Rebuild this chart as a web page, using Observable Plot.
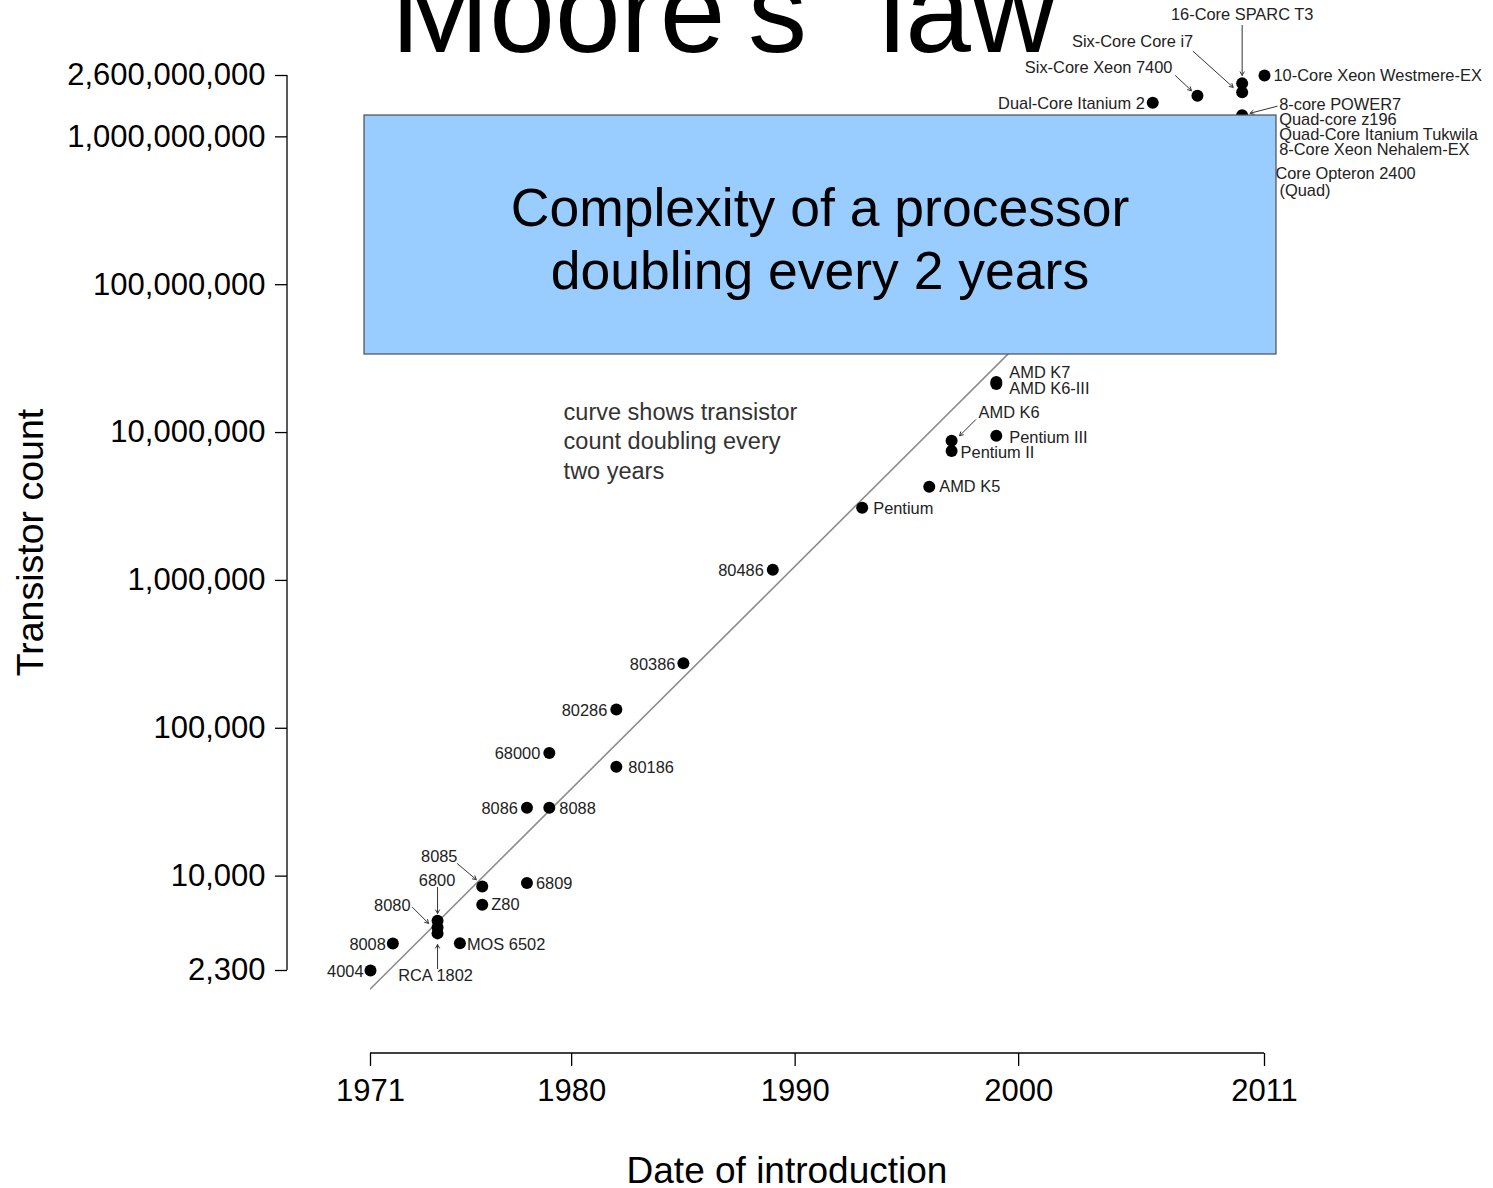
<!DOCTYPE html>
<html>
<head>
<meta charset="utf-8">
<script src="https://cdn.jsdelivr.net/npm/d3@7"></script>
<script src="https://cdn.jsdelivr.net/npm/@observablehq/plot@0.6"></script>
<style>
html, body { margin: 0; padding: 0; background: #fff; overflow: hidden; }
#chart { width: 1493px; height: 1188px; }
</style>
</head>
<body>
<div id="chart"></div>
<script>
// ---------------- data ----------------
const chips = ["4004","8008","8080","6800","RCA 1802","MOS 6502","8085","Z80","6809","8086","8088","68000","80186","80286","80386","80486","Pentium","AMD K5","AMD K6","Pentium II","Pentium III","AMD K6-III","AMD K7","Dual-Core Itanium 2","Six-Core Xeon 7400","16-Core SPARC T3","Six-Core Core i7","8-core POWER7","10-Core Xeon Westmere-EX"];
const years = [1971,1972,1974,1974,1974,1975,1976,1976,1978,1978,1979,1979,1982,1982,1985,1989,1993,1996,1997,1997,1999,1999,1999,2006,2008,2010,2010,2010,2011];
const counts = [2300,3500,4500,4100,5000,3510,8500,6400,9000,29000,29000,68000,55000,134000,275000,1180000,3100000,4300000,8800000,7500000,9500000,21300000,22000000,1.7e9,1.9e9,2.3e9,2.0e9,1.4e9,2.6e9];
// labels whose dots are hidden under the box
const hiddenChips = ["Quad-core z196","Quad-Core Itanium Tukwila","8-Core Xeon Nehalem-EX","Six-Core Opteron 2400","Core i7 (Quad)"];
// trend line: doubling every two years
const trendYears = [1971, 2010];
const trendCounts = [1730, 1.28e9];
const xTicks = [1971, 1980, 1990, 2000, 2011];
const yTicks = [2300, 1e4, 1e5, 1e6, 1e7, 1e8, 1e9, 2.6e9];
const titleText = "Moore's \u201Claw\u201D";
const xLabel = "Date of introduction";
const yLabel = "Transistor count";
const boxLines = ["Complexity of a processor", "doubling every 2 years"];
const noteText = "curve shows transistor\ncount doubling every\ntwo years";
const noteYear = 1979.64, noteCount = 8.9e6;

// ---------------- label layout (pixel offsets from the referenced dot) ----------------
const layout = {
  "4004": {a: "end", dx: -7, dy: 1},
  "8008": {a: "end", dx: -7, dy: 1},
  "8080": {a: "end", dx: -27, dy: -22, arrow: [-25, -20, -9, -4]},
  "6800": {a: "middle", dx: -0.5, dy: -53, arrow: [0, -46, 0, -20]},
  "RCA 1802": {a: "middle", dx: -2, dy: 55, arrow: [0, 48, 0, 24]},
  "MOS 6502": {a: "start", dx: 7, dy: 1},
  "8085": {a: "middle", dx: -43, dy: -30, arrow: [-25, -23, -6, -7]},
  "Z80": {a: "start", dx: 9, dy: 0},
  "6809": {a: "start", dx: 9, dy: 1},
  "8086": {a: "end", dx: -9, dy: 1},
  "8088": {a: "start", dx: 10, dy: 1},
  "68000": {a: "end", dx: -9, dy: 1},
  "80186": {a: "start", dx: 12, dy: 1},
  "80286": {a: "end", dx: -9, dy: 1},
  "80386": {a: "end", dx: -8, dy: 1},
  "80486": {a: "end", dx: -9, dy: 1},
  "Pentium": {a: "start", dx: 11, dy: 1},
  "AMD K5": {a: "start", dx: 10, dy: 0},
  "AMD K6": {a: "start", dx: 27, dy: -28, arrow: [24, -21, 8, -5]},
  "Pentium II": {a: "start", dx: 9, dy: 2},
  "Pentium III": {a: "start", dx: 13, dy: 2},
  "AMD K6-III": {a: "start", dx: 13, dy: 5},
  "AMD K7": {a: "start", dx: 13, dy: -9},
  "Dual-Core Itanium 2": {a: "end", dx: -8, dy: 1},
  "Six-Core Xeon 7400": {a: "end", dx: -25, dy: -28, arrow: [-22, -20, -6, -5]},
  "16-Core SPARC T3": {a: "middle", dx: 0, dy: -68.5, arrow: [0, -58, 0, -8]},
  "Six-Core Core i7": {a: "end", dx: -49, dy: -51, arrow: [-49, -41, -9, -5]},
  "8-core POWER7": {a: "start", dx: 37, dy: -10.5, arrow: [35, -9, 8, -2]},
  "10-Core Xeon Westmere-EX": {a: "start", dx: 9, dy: 0},
  "Quad-core z196": {ref: "8-core POWER7", a: "start", dx: 37, dy: 4.5},
  "Quad-Core Itanium Tukwila": {ref: "8-core POWER7", a: "start", dx: 37, dy: 19.5},
  "8-Core Xeon Nehalem-EX": {ref: "8-core POWER7", a: "start", dx: 37, dy: 34.5},
  "Six-Core Opteron 2400": {ref: "8-core POWER7", a: "start", dx: 5, dy: 58.5},
  "Core i7 (Quad)": {ref: "8-core POWER7", a: "start", dx: -20, dy: 75.5}
};

// ---------------- build ----------------
const FONT = "'Liberation Sans', Arial, Helvetica, sans-serif";
const W = 1493, H = 1188, mL = 287, mR = 20, mT = 0, mB = 135;
const X = {domain: [xTicks[0], xTicks[xTicks.length - 1]], range: [370, 1264]};
const Y = {type: "log", domain: [yTicks[0], yTicks[yTicks.length - 1]], range: [970, 75]};
const xs = Plot.scale({x: X});
const ys = Plot.scale({y: Y});

const chipData = chips.map((name, i) => ({name, year: years[i], count: counts[i]}));
const byName = new Map(chipData.map(d => [d.name, d]));
const trend = trendYears.map((y, i) => ({year: y, count: trendCounts[i]}));

function at(ref, dx, dy) {
  const d = byName.get(ref);
  return {year: xs.invert(xs.apply(d.year) + dx), count: ys.invert(ys.apply(d.count) + dy)};
}
const labels = [], arrows = [];
for (const name of chips.concat(hiddenChips)) {
  const L = layout[name];
  const ref = L.ref || name;
  const p = at(ref, L.dx, L.dy);
  labels.push({text: name, anchor: L.a, year: p.year, count: p.count});
  if (L.arrow) {
    const s = at(ref, L.arrow[0], L.arrow[1]);
    const e = at(ref, L.arrow[2], L.arrow[3]);
    arrows.push({x1: s.year, y1: s.count, x2: e.year, y2: e.count});
  }
}
const labelMark = (anchor) => Plot.text(labels.filter(d => d.anchor === anchor), {
  x: "year", y: "count", text: "text", textAnchor: anchor,
  fontSize: 16.4, fill: "#222", fontFamily: FONT
});

const plot = Plot.plot({
  width: W, height: H,
  marginLeft: mL, marginRight: mR, marginTop: mT, marginBottom: mB,
  style: {fontFamily: FONT, background: "#fff", color: "#000", overflow: "visible"},
  x: X,
  y: Y,
  marks: [
    Plot.line(trend, {x: "year", y: "count", stroke: "#8c8c8c", strokeWidth: 1.6}),
    Plot.dot(chipData, {x: "year", y: "count", r: 6, fill: "#000"}),
    Plot.arrow(arrows, {x1: "x1", y1: "y1", x2: "x2", y2: "y2", stroke: "#333", strokeWidth: 1, headLength: 6}),
    labelMark("start"), labelMark("middle"), labelMark("end"),
    Plot.text([noteText], {x: () => noteYear, y: () => noteCount, text: d => d, textAnchor: "start",
      lineHeight: 1.24, fontSize: 23.5, fill: "#333"}),
    Plot.axisX({ticks: xTicks, tickFormat: d => String(d), tickSize: 13, tickPadding: 12,
      fontSize: 31, label: null, strokeWidth: 1.3}),
    Plot.axisY({ticks: yTicks, tickFormat: () => "", tickSize: 12, tickPadding: 10,
      label: null, strokeWidth: 1.3}),
    Plot.text(yTicks, {y: d => d, text: d3.format(","), frameAnchor: "left", dx: -22,
      textAnchor: "end", fontSize: 31, fill: "#000"})
  ]
});

const svg = d3.select(plot);
const sx = plot.scale("x"), sy = plot.scale("y");
const axisY0 = H - mB;
// axis lines spanning first to last tick
svg.append("line")
  .attr("x1", sx.apply(xTicks[0])).attr("x2", sx.apply(xTicks[xTicks.length - 1]))
  .attr("y1", axisY0).attr("y2", axisY0).attr("stroke", "#000").attr("stroke-width", 1.3);
svg.append("line")
  .attr("x1", mL).attr("x2", mL)
  .attr("y1", sy.apply(yTicks[0])).attr("y2", sy.apply(yTicks[yTicks.length - 1]))
  .attr("stroke", "#000").attr("stroke-width", 1.3);
// axis titles
svg.append("text").text(xLabel)
  .attr("x", (sx.apply(xTicks[0]) + sx.apply(xTicks[xTicks.length - 1])) / 2 - 30).attr("y", 1183)
  .attr("text-anchor", "middle").attr("font-size", 37).attr("fill", "#000");
svg.append("text").text(yLabel)
  .attr("transform", `translate(43,${(sy.apply(yTicks[0]) + sy.apply(yTicks[yTicks.length - 1])) / 2 + 20}) rotate(-90)`)
  .attr("text-anchor", "middle").attr("font-size", 37.5).attr("fill", "#000");
// title (cut by the top edge, as in the original)
svg.append("text").text(titleText)
  .attr("x", 391).attr("y", 52).attr("text-anchor", "start").attr("font-size", 118).attr("fill", "#000");
// highlight box on top
svg.append("rect").attr("x", 364).attr("y", 115).attr("width", 912).attr("height", 239)
  .attr("fill", "#99ccff").attr("stroke", "#4d4d4d").attr("stroke-width", 1.2);
boxLines.forEach((t, i) => {
  svg.append("text").text(t).attr("x", 820).attr("y", 226 + i * 63)
    .attr("text-anchor", "middle").attr("font-size", 53.5).attr("fill", "#000");
});

document.getElementById("chart").appendChild(plot);
</script>
</body>
</html>
